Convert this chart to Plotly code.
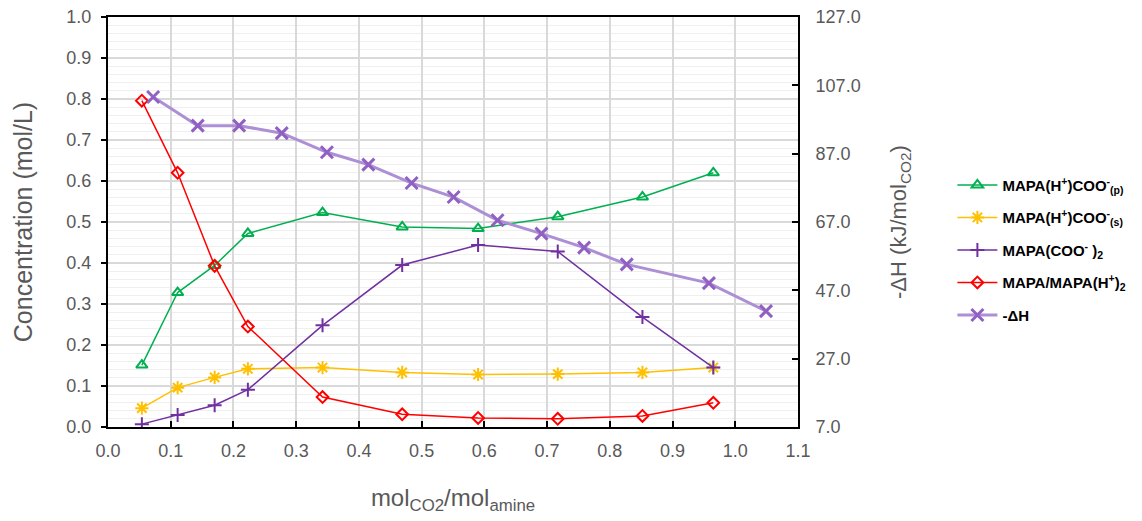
import plotly.graph_objects as go

# ---- data ----
x_species = [0.054, 0.111, 0.170, 0.223, 0.342, 0.469, 0.590, 0.717, 0.852, 0.965]
carb_p = [0.151, 0.328, 0.394, 0.472, 0.523, 0.488, 0.484, 0.513, 0.561, 0.620]
carb_s = [0.046, 0.096, 0.121, 0.142, 0.145, 0.133, 0.128, 0.129, 0.133, 0.145]
dicarb = [0.007, 0.029, 0.053, 0.091, 0.248, 0.395, 0.444, 0.428, 0.268, 0.145]
free_amine = [0.796, 0.620, 0.393, 0.245, 0.073, 0.031, 0.022, 0.020, 0.027, 0.059]

x_dh = [0.072, 0.143, 0.209, 0.277, 0.349, 0.415, 0.484, 0.551, 0.621, 0.691, 0.759, 0.827, 0.958, 1.049]
dh = [103.6, 95.2, 95.2, 93.0, 87.4, 83.8, 78.4, 74.3, 67.5, 63.6, 59.5, 54.6, 49.1, 40.9]

names = [
    "<b>MAPA(H<sup>+</sup>)COO<sup>-</sup><sub>(p)</sub></b>",
    "<b>MAPA(H<sup>+</sup>)COO<sup>-</sup><sub>(s)</sub></b>",
    "<b>MAPA(COO<sup>-</sup> )<sub>2</sub></b>",
    "<b>MAPA/MAPA(H<sup>+</sup>)<sub>2</sub></b>",
    "<b>-ΔH</b>",
]

FONT = "Liberation Sans, Arial, sans-serif"
GRAY = "#595959"

fig = go.Figure()

styles = [
    (carb_p, "#00B050", "triangle-up-open", 10),
    (carb_s, "#FFC000", "asterisk-open", 11),
    (dicarb, "#7030A0", "cross-thin-open", 10),
    (free_amine, "#FF0000", "diamond-open", 9),
]
for i, (ys, col, sym, sz) in enumerate(styles):
    fig.add_trace(go.Scatter(
        x=x_species, y=ys, name=names[i], mode="lines+markers",
        line=dict(color=col, width=1.5),
        marker=dict(symbol=sym, size=sz, color=col, line=dict(color=col, width=2)),
        legendgroup=f"g{i}",
    ))

fig.add_trace(go.Scatter(
    x=x_dh, y=dh, name=names[4], mode="lines+markers", yaxis="y2",
    line=dict(color="#AC8FD5", width=3),
    marker=dict(symbol="x-thin-open", size=12, color="#9061C2", line=dict(color="#9061C2", width=3)),
    legendgroup="g4",
))

fig.update_layout(
    width=1142, height=521,
    margin=dict(l=108, r=343, t=17, b=94),
    paper_bgcolor="white", plot_bgcolor="white",
    font=dict(family=FONT, color=GRAY),
    showlegend=True,
    legend=dict(
        x=1.222, y=0.63, xanchor="left", yanchor="top",
        font=dict(family=FONT, size=15, color="#000000"),
        tracegroupgap=10, itemwidth=40,
        bgcolor="rgba(0,0,0,0)",
    ),
    xaxis=dict(
        range=[0, 1.1], dtick=0.1, tick0=0, tickformat=".1f",
        showgrid=True, gridcolor="#d9d9d9", gridwidth=1.5,
        showline=True, linecolor="black", linewidth=2, mirror=True,
        ticks="inside", ticklen=6, tickcolor="black", tickwidth=1.5,
        tickfont=dict(size=18, color=GRAY), ticklabelstandoff=6,
        zeroline=False, automargin=False, ticklabeloverflow="allow",
        title=dict(text="mol<sub>CO2</sub>/mol<sub>amine</sub>",
                   font=dict(size=24, color=GRAY), standoff=30),
    ),
    yaxis=dict(
        range=[0, 1.0], dtick=0.1, tick0=0, tickformat=".1f",
        showgrid=True, gridcolor="#d9d9d9", gridwidth=1.5,
        minor=dict(dtick=0.02, showgrid=True, gridcolor="#efefef", gridwidth=1),
        showline=True, linecolor="black", linewidth=2, mirror=True,
        ticks="outside", ticklen=5, tickcolor="black", tickwidth=1.5,
        tickfont=dict(size=18, color=GRAY), ticklabelstandoff=6,
        zeroline=False, automargin=False, ticklabeloverflow="allow",
        title=dict(text="Concentration (mol/L)", font=dict(size=25, color=GRAY), standoff=27),
    ),
    yaxis2=dict(
        range=[7, 127], dtick=20, tick0=7, tickformat=".1f",
        overlaying="y", side="right", showgrid=False, zeroline=False,
        showline=True, linecolor="black", linewidth=2, automargin=False,
        ticklabeloverflow="allow",
        ticks="inside", ticklen=6, tickcolor="black", tickwidth=1.5,
        tickfont=dict(size=18, color=GRAY), ticklabelstandoff=12,
        title=dict(text="-ΔH (kJ/mol<sub>CO2</sub>)", font=dict(size=22, color=GRAY), standoff=31),
    ),
)

fig.write_html("out.html", config={"displayModeBar": False},
               post_script="document.body.style.margin='0';")
